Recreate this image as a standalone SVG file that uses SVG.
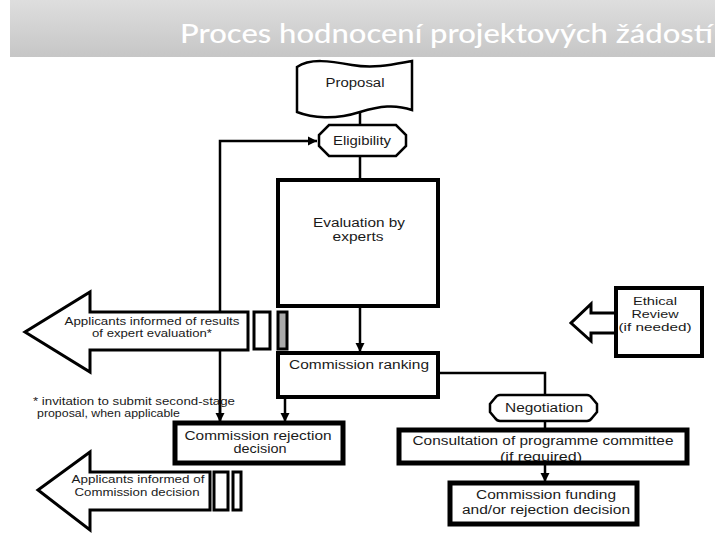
<svg xmlns="http://www.w3.org/2000/svg" width="720" height="540" viewBox="0 0 720 540">
<defs>
<linearGradient id="tg" x1="0" y1="0" x2="0" y2="1">
<stop offset="0" stop-color="#dedede"/>
<stop offset="1" stop-color="#c6c6c6"/>
</linearGradient>
<marker id="ah" viewBox="0 0 10 10" refX="10" refY="5" markerUnits="userSpaceOnUse" markerWidth="9" markerHeight="10" orient="auto">
<path d="M0,0 L10,5 L0,10 z" fill="#000"/>
</marker>
<style>
.t{font-family:"Liberation Sans",Arial,sans-serif;font-size:12.5px;fill:#1a1a1a;text-anchor:middle}
.e{font-family:"Liberation Sans",Arial,sans-serif;font-size:11.5px;fill:#1a1a1a;text-anchor:middle}
.s{font-family:"Liberation Sans",Arial,sans-serif;font-size:11px;fill:#1a1a1a}
.box{fill:#fff;stroke:#000;stroke-width:4}
.thin{fill:#fff;stroke:#000;stroke-width:2.5}
.c{fill:none;stroke:#000;stroke-width:2.5}
.bar{fill:#fff;stroke:#000;stroke-width:3}
</style>
</defs>
<rect x="0" y="0" width="720" height="540" fill="#fff"/>
<g id="title">
<rect x="10" y="0" width="705" height="57" fill="url(#tg)"/>
<text x="180" y="43" font-family="Lato,'Open Sans',sans-serif" font-size="26" font-weight="500" fill="#fff" textLength="533" lengthAdjust="spacingAndGlyphs">Proces hodnocení projektových žádostí</text>
</g>
<g id="connectors">
<path class="c" d="M360,112 V125"/>
<path class="c" d="M360,156 V180"/>
<path class="c" d="M220,423 V141 H317" marker-end="url(#ah)"/>
<path class="c" d="M360,306 V352" marker-end="url(#ah)"/>
<path class="c" d="M285,397 V422" marker-end="url(#ah)"/>
<path class="c" d="M220,400 V422" marker-end="url(#ah)"/>
<path class="c" d="M438,373 H545 V395"/>
<path class="c" d="M545,421 V430"/>
<path class="c" d="M545,463 V482" marker-end="url(#ah)"/>
</g>
<g id="proposal">
<path class="thin" d="M297,67 C310,58 330,61 352,65 C375,69 395,64 412,61 V110 C395,104 380,106 360,112 C335,120 312,118 297,112 Z"/>
<text class="t" x="355" y="87" textLength="59" lengthAdjust="spacingAndGlyphs">Proposal</text>
</g>
<g id="eligibility">
<path class="thin" d="M329,125 H396 L406,135 V146 L396,156 H329 L319,146 V135 Z"/>
<text class="t" x="362" y="145" textLength="58" lengthAdjust="spacingAndGlyphs">Eligibility</text>
</g>
<g id="evaluation">
<rect class="box" x="278" y="180" width="160" height="126"/>
<text class="t" x="359" y="227" textLength="92" lengthAdjust="spacingAndGlyphs">Evaluation by</text>
<text class="t" x="358" y="241" textLength="51" lengthAdjust="spacingAndGlyphs">experts</text>
</g>
<g id="ranking">
<rect class="box" x="278" y="353" width="160" height="44"/>
<text class="t" x="359" y="369" textLength="140" lengthAdjust="spacingAndGlyphs">Commission ranking</text>
</g>
<g id="results-arrow">
<path class="bar" d="M248,312 H90 V292 L25,332 L90,372 V350 H248 Z"/>
<text class="s" x="152" y="325" text-anchor="middle" textLength="175" lengthAdjust="spacingAndGlyphs">Applicants informed of results</text>
<text class="s" x="152" y="337" text-anchor="middle" textLength="120" lengthAdjust="spacingAndGlyphs">of expert evaluation*</text>
<rect x="254" y="312" width="16" height="37" fill="#fff" stroke="#000" stroke-width="3"/>
<rect x="278" y="312" width="9" height="37" fill="#aaa" stroke="#000" stroke-width="3"/>
</g>
<g id="footnote">
<text class="s" x="33" y="405" textLength="202" lengthAdjust="spacingAndGlyphs">* invitation to submit second-stage</text>
<text class="s" x="37" y="417" textLength="143" lengthAdjust="spacingAndGlyphs">proposal, when applicable</text>
</g>
<g id="ethical">
<path class="bar" d="M617,313 H591 V304 L571,323 L591,341 V333 H617"/>
<rect class="box" x="616" y="288" width="86" height="68"/>
<text class="e" x="655" y="305" textLength="44" lengthAdjust="spacingAndGlyphs">Ethical</text>
<text class="e" x="655" y="318" textLength="47" lengthAdjust="spacingAndGlyphs">Review</text>
<text class="e" x="655" y="331" textLength="73" lengthAdjust="spacingAndGlyphs">(if needed)</text>
</g>
<g id="rejection">
<rect x="175" y="423" width="168" height="40" fill="#fff" stroke="#000" stroke-width="5"/>
<text class="t" x="258" y="440" textLength="147" lengthAdjust="spacingAndGlyphs">Commission rejection</text>
<text class="t" x="260" y="453" textLength="53" lengthAdjust="spacingAndGlyphs">decision</text>
</g>
<g id="negotiation">
<path class="thin" d="M500,395 H587 Q590,395 592,398 L597,404 V412 L592,418 Q590,421 587,421 H500 Q497,421 495,418 L490,412 V404 L495,398 Q497,395 500,395 Z"/>
<text class="t" x="544" y="412" textLength="78" lengthAdjust="spacingAndGlyphs">Negotiation</text>
</g>
<g id="consultation">
<rect x="399" y="430" width="288" height="33" fill="#fff"/>
<text class="t" x="543" y="445" textLength="261" lengthAdjust="spacingAndGlyphs">Consultation of programme committee</text>
<text class="t" x="541" y="461" textLength="82" lengthAdjust="spacingAndGlyphs">(if required)</text>
<rect x="399" y="430" width="288" height="33" fill="none" stroke="#000" stroke-width="5"/>
</g>
<g id="funding">
<rect x="450" y="483" width="187" height="41" fill="#fff" stroke="#000" stroke-width="5"/>
<text class="t" x="546" y="499" textLength="140" lengthAdjust="spacingAndGlyphs">Commission funding</text>
<text class="t" x="546" y="514" textLength="168" lengthAdjust="spacingAndGlyphs">and/or rejection decision</text>
</g>
<g id="decision-arrow">
<path class="bar" d="M210,472 H90 V452 L38,490 L90,530 V510 H210 Z"/>
<text class="s" x="138" y="483" text-anchor="middle" textLength="133" lengthAdjust="spacingAndGlyphs">Applicants informed of</text>
<text class="s" x="137" y="496" text-anchor="middle" textLength="125" lengthAdjust="spacingAndGlyphs">Commission decision</text>
<rect x="214" y="472" width="14" height="38" fill="#fff" stroke="#000" stroke-width="3"/>
<rect x="233" y="472" width="8" height="38" fill="#fff" stroke="#000" stroke-width="3"/>
</g>
</svg>
